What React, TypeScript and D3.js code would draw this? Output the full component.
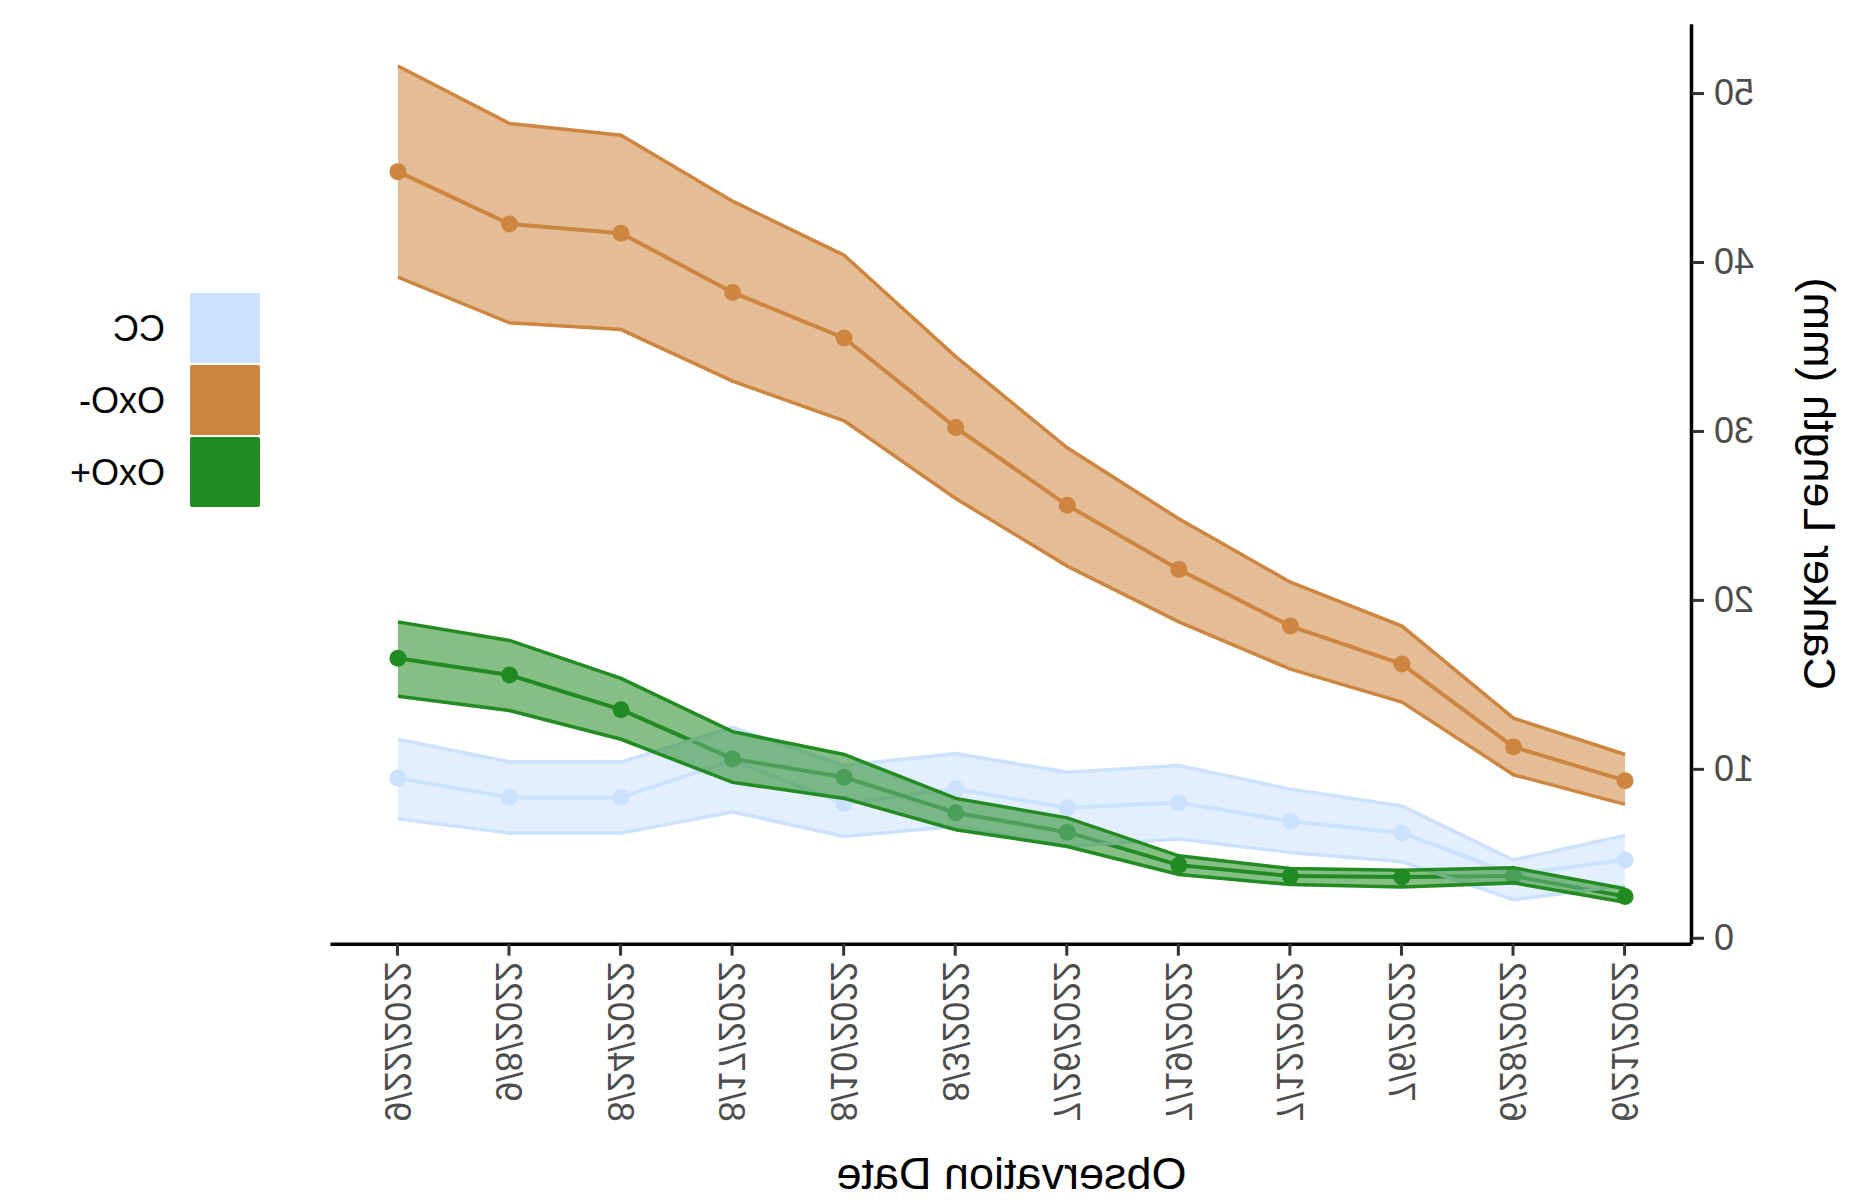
import { useEffect, useRef } from 'react'
import * as d3 from 'd3'

const DATES = [
  '6/21/2022', '6/28/2022', '7/6/2022', '7/12/2022', '7/19/2022', '7/26/2022',
  '8/3/2022', '8/10/2022', '8/17/2022', '8/24/2022', '9/8/2022', '9/22/2022',
]

const CC_MEAN = [4.6, 3.75, 6.2, 6.9, 8.0, 7.7, 8.8, 7.95, 10.5, 8.3, 8.3, 9.45]
const CC_HI = [6.05, 4.6, 7.8, 8.8, 10.2, 9.8, 10.9, 10.2, 12.45, 10.4, 10.4, 11.75]
const CC_LO = [3.1, 2.25, 4.5, 5.05, 5.85, 5.4, 6.6, 6.0, 7.45, 6.2, 6.2, 7.05]

const OXO_MINUS_MEAN = [9.3, 11.3, 16.2, 18.45, 21.8, 25.6, 30.2, 35.5, 38.2, 41.7, 42.25, 45.35]
const OXO_MINUS_HI = [10.85, 13.0, 18.45, 21.05, 24.8, 29.0, 34.4, 40.4, 43.6, 47.5, 48.2, 51.6]
const OXO_MINUS_LO = [7.9, 9.65, 13.95, 15.9, 18.7, 22.0, 26.0, 30.6, 32.95, 36.0, 36.4, 39.1]

const OXO_PLUS_MEAN = [2.45, 3.65, 3.6, 3.65, 4.3, 6.25, 7.4, 9.5, 10.6, 13.5, 15.55, 16.55]
const OXO_PLUS_HI = [2.9, 4.15, 4.0, 4.1, 4.85, 7.1, 8.25, 10.85, 12.2, 15.35, 17.6, 18.7]
const OXO_PLUS_LO = [2.1, 3.25, 3.0, 3.15, 3.75, 5.4, 6.4, 8.25, 9.2, 11.75, 13.45, 14.3]

const Y_TICKS = [0, 10, 20, 30, 40, 50]

const GROUPS = ['CC', 'OxO-', 'OxO+']
const COLORS: Record<string, string> = { CC: '#CCE0FF', 'OxO-': '#CD853F', 'OxO+': '#228B22' }

const FONT = '"Liberation Sans", Arial, Helvetica, sans-serif'

export default function App() {
  const svgRef = useRef<SVGSVGElement>(null)

  useEffect(() => {
    if (!svgRef.current) return
    document.body.style.margin = '0'
    const svg = d3.select(svgRef.current)
    svg.selectAll('*').remove()

    const W = 1860
    const series = [
      { name: 'CC', mean: CC_MEAN, lo: CC_LO, hi: CC_HI },
      { name: 'OxO-', mean: OXO_MINUS_MEAN, lo: OXO_MINUS_LO, hi: OXO_MINUS_HI },
      { name: 'OxO+', mean: OXO_PLUS_MEAN, lo: OXO_PLUS_LO, hi: OXO_PLUS_HI },
    ]

    // the reference is a mirror image, so draw normally then flip
    const root = svg.append('g').attr('transform', `translate(${W},0) scale(-1,1)`)

    const x = d3.scalePoint<string>().domain(DATES).range([168, 1529]).padding(0.6)
    const y = d3.scaleLinear().domain([-0.35, 54.1]).range([943.7, 23.8])

    const line = d3.line<number>().x((_, i) => x(DATES[i])!).y(d => y(d))

    // lines + points
    series.forEach(s => {
      root.append('path').attr('d', line(s.mean)).attr('fill', 'none')
        .attr('stroke', COLORS[s.name]).attr('stroke-width', 4)
      root.append('g').selectAll('circle').data(s.mean).join('circle')
        .attr('cx', (_, i) => x(DATES[i])!).attr('cy', d => y(d)).attr('r', 8.5)
        .attr('fill', COLORS[s.name])
    })

    // ribbons on top
    series.forEach(s => {
      const area = d3.area<number>().x((_, i) => x(DATES[i])!)
        .y0((_, i) => y(s.lo[i])).y1(d => y(d))
      root.append('path').attr('d', area(s.hi)).attr('fill', COLORS[s.name]).attr('fill-opacity', 0.55)
      root.append('path').attr('d', line(s.hi)).attr('fill', 'none')
        .attr('stroke', COLORS[s.name]).attr('stroke-width', 3.5)
      root.append('path').attr('d', line(s.lo)).attr('fill', 'none')
        .attr('stroke', COLORS[s.name]).attr('stroke-width', 3.5)
    })

    // axes
    const xAxis = root.append('g').attr('transform', `translate(0,${y.range()[0]})`)
      .call(d3.axisBottom(x).tickSize(12).tickSizeOuter(0))
    const yAxis = root.append('g').attr('transform', `translate(${x.range()[0]},0)`)
      .call(d3.axisLeft(y).tickValues(Y_TICKS).tickSize(12).tickSizeOuter(0).tickPadding(10))
    ;[xAxis, yAxis].forEach(a => {
      a.select('.domain').attr('stroke', '#000').attr('stroke-width', 3.5)
      a.selectAll('.tick line').attr('stroke', '#333').attr('stroke-width', 3)
      a.selectAll('.tick text').attr('fill', '#4D4D4D').attr('font-size', 36).attr('font-family', FONT)
    })
    xAxis.selectAll('.tick text')
      .attr('transform', 'rotate(-90)').attr('text-anchor', 'end')
      .attr('x', -18).attr('y', 0).attr('dy', '0.35em')

    // axis titles
    root.append('text').attr('x', (x.range()[0] + x.range()[1]) / 2).attr('y', 1189)
      .attr('text-anchor', 'middle').attr('font-size', 45).attr('font-family', FONT)
      .attr('fill', '#000').text('Observation Date')
    root.append('text').attr('transform', `translate(56,${(y.range()[0] + y.range()[1]) / 2}) rotate(-90)`)
      .attr('text-anchor', 'middle').attr('font-size', 45).attr('font-family', FONT)
      .attr('fill', '#000').text('Canker Length (mm)')

    // legend
    const lg = root.append('g').attr('transform', 'translate(1600,293)')
    GROUPS.forEach((g, i) => {
      lg.append('rect').attr('x', 0).attr('y', i * 72).attr('width', 70).attr('height', 70)
        .attr('rx', 2).attr('fill', COLORS[g])
      lg.append('text').attr('x', 95).attr('y', i * 72 + 35).attr('dy', '0.35em')
        .attr('font-size', 36).attr('font-family', FONT).attr('fill', '#000').text(g)
    })
  }, [])

  return <svg ref={svgRef} width={1860} height={1200} style={{ display: 'block', background: '#fff' }} />
}
